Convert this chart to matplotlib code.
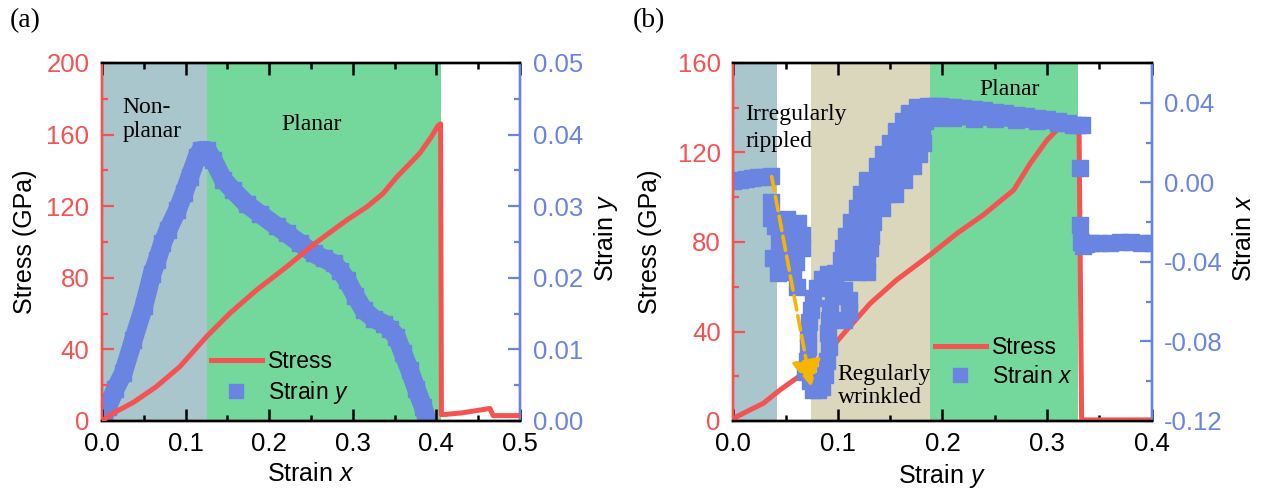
import matplotlib
matplotlib.use("Agg")
import matplotlib.pyplot as plt
import numpy as np
from matplotlib.lines import Line2D
from matplotlib.ticker import MultipleLocator, FormatStrFormatter

plt.rcParams['font.family'] = ['Liberation Sans', 'DejaVu Sans']
plt.rcParams['mathtext.fontset'] = 'custom'
plt.rcParams['mathtext.rm'] = 'Liberation Sans'
plt.rcParams['mathtext.it'] = 'Liberation Sans:italic'
plt.rcParams['axes.unicode_minus'] = False

RED = '#f55252'
BLUE = '#6a84e2'
GREEN = '#74d89c'
GREYBLUE = '#a8c6cc'
TAN = '#dbd7bc'
ARROW = '#f7b500'
SERIF = ['Liberation Serif', 'DejaVu Serif']
NAN = np.nan

# ---------------- panel (a): loading along x ----------------
a_stress_strain = [0.000, 0.013, 0.0375, 0.065, 0.093, 0.125, 0.153, 0.185, 0.221,
                   0.255, 0.293, 0.317, 0.336, 0.353, 0.380, 0.394, 0.402, 0.405,
                   0.406, 0.430, 0.464, 0.468, 0.480, 0.500]
a_stress = [0.0, 4.3, 10.4, 19.2, 30.3, 47.1, 60.2, 73.2, 86.2,
            99.3, 112.3, 119.7, 127.0, 136.5, 149.5, 158.8, 165.0, 166.0,
            3.5, 4.5, 7.0, 3.0, 3.0, 3.0]

a_sy_strain = [0.002, 0.007, 0.016, 0.0255, 0.0375, 0.050, 0.060, 0.066, 0.0723,
               0.079, 0.0903, 0.098, 0.105, 0.1136, 0.118, 0.126, 0.133, 0.145,
               0.157, 0.173, 0.189, 0.209, 0.221, 0.237, 0.253, 0.265, 0.277,
               0.285, 0.293, 0.303, 0.313, 0.325, 0.337, 0.345, 0.352, 0.360,
               0.368, 0.376, 0.384, 0.392]
a_strain_y = [0.0005, 0.0020, 0.0045, 0.0067, 0.0113, 0.0160, 0.0206, 0.0225, 0.0248,
              0.0267, 0.0295, 0.0318, 0.0341, 0.0369, 0.0378, 0.0378, 0.0365, 0.0337,
              0.0322, 0.0303, 0.0289, 0.0272, 0.0262, 0.0248, 0.0234, 0.0227, 0.0220,
              0.0210, 0.0197, 0.0175, 0.0155, 0.0143, 0.0136, 0.0128, 0.0118, 0.0095,
              0.0071, 0.0045, 0.0020, -0.0010]

a_regions = [(0.0, 0.125, GREYBLUE), (0.125, 0.406, GREEN)]

# ---------------- panel (b): loading along y ----------------
b_stress_strain = [0.000, 0.003, 0.0287, 0.0447, 0.067, 0.0894, 0.1085, 0.131, 0.156,
                   0.188, 0.214, 0.239, 0.268, 0.284, 0.300, 0.311, 0.320, 0.3305,
                   0.333, 0.400]
b_stress = [0.0, 1.9, 7.9, 13.9, 21.3, 30.3, 40.7, 52.6, 63.0,
            74.2, 83.9, 92.1, 103.2, 115.2, 125.6, 130.8, 132.5, 133.0,
            0.5, 0.5]

# strain x: steady stretches (NaN separates the stretches)
b_band_strain = [
    0.000, 0.006, 0.012, 0.018, 0.024, 0.030, 0.036, NAN,
    0.186, 0.192, 0.198, 0.204, 0.210, 0.220, 0.230, 0.240, 0.250, 0.260,
    0.270, 0.280, 0.290, 0.300, 0.310, 0.320, 0.330, 0.333, NAN,
    0.195, 0.210, 0.230, 0.250, 0.270, 0.290, 0.310, 0.325, NAN,
    0.332, 0.334, 0.337, 0.342, 0.350, 0.360, 0.370, 0.380, 0.390, 0.400]
b_band_sx = [
    0.0008, 0.0012, 0.0016, 0.0021, 0.0025, 0.0028, 0.0030, NAN,
    0.0383, 0.0384, 0.0382, 0.0380, 0.0378, 0.0376, 0.0370, 0.0362, 0.0355, 0.0348,
    0.0340, 0.0332, 0.0324, 0.0316, 0.0306, 0.0298, 0.0288, 0.0288, NAN,
    0.0322, 0.0322, 0.0320, 0.0318, 0.0312, 0.0306, 0.0298, 0.0290, NAN,
    -0.0300, -0.0322, -0.0310, -0.0305, -0.0304, -0.0303, -0.0302, -0.0302, -0.0303, -0.0303]

# strain x: scattered stretches
b_scatter_strain = [
    # irregularly rippled
    0.0358, 0.0358, 0.0511, 0.0622, 0.0654, 0.0479, 0.0383, 0.0526, 0.0431, 0.0574,
    0.0654, 0.0607, 0.0400, 0.0560, 0.0440, 0.0600, 0.0500, 0.0470,
    # regularly wrinkled
    0.0686, 0.0735, 0.0766, 0.0810, 0.0846, 0.0878,
    0.0700, 0.0712, 0.0718, 0.0724, 0.0740, 0.0765, 0.0798, 0.0850, 0.0910, 0.0970,
    0.0900, 0.0915, 0.0910, 0.0915, 0.0925, 0.0950, 0.1000, 0.1060, 0.1110, 0.1110, 0.1060,
    0.105, 0.118, 0.128,
    0.103, 0.115, 0.128,
    0.105, 0.118, 0.131,
    0.108, 0.120, 0.132,
    0.113, 0.125, 0.134,
    0.118, 0.130, 0.142,
    0.122, 0.135, 0.148, 0.155,
    0.128, 0.140, 0.152, 0.163,
    0.137, 0.150, 0.162, 0.172,
    0.143, 0.156, 0.168, 0.178,
    0.150, 0.162, 0.174, 0.181,
    0.156, 0.168, 0.180,
    0.162, 0.174, 0.183,
    0.168, 0.178, 0.185,
    0.176, 0.185,
    # fracture
    0.331, 0.3318]
b_scatter_sx = [
    -0.0100, -0.0180, -0.0185, -0.0206, -0.0264, -0.0256, -0.0382, -0.0357, -0.0457, -0.0449,
    -0.0331, -0.0524, -0.0220, -0.0280, -0.0300, -0.0400, -0.0420, -0.0360,
    -0.0952, -0.1000, -0.1044, -0.1044, -0.1027, -0.0970,
    -0.0900, -0.0826, -0.0760, -0.0700, -0.0640, -0.0580, -0.0530, -0.0485, -0.0460, -0.0455,
    -0.0900, -0.0830, -0.0760, -0.0690, -0.0630, -0.0570, -0.0540, -0.0540, -0.0590, -0.0650, -0.0690,
    -0.045, -0.045, -0.045,
    -0.039, -0.039, -0.039,
    -0.033, -0.033, -0.033,
    -0.027, -0.027, -0.027,
    -0.020, -0.020, -0.020,
    -0.013, -0.013, -0.013,
    -0.006, -0.006, -0.006, -0.006,
    0.001, 0.001, 0.001, 0.001,
    0.008, 0.008, 0.008, 0.008,
    0.014, 0.014, 0.014, 0.014,
    0.020, 0.020, 0.020, 0.020,
    0.026, 0.026, 0.026,
    0.031, 0.031, 0.031,
    0.035, 0.035, 0.035,
    0.038, 0.038,
    0.0071, -0.0214]

b_regions = [(0.0, 0.0415, GREYBLUE), (0.0744, 0.188, TAN), (0.188, 0.330, GREEN)]

# dashed guide arrow (strain y, strain x)
arrow_start = (0.0367, 0.0029)
arrow_end = (0.0744, -0.1027)

TICK_FS = 18.5
LABEL_FS = 18
TEXT_FS = 17
LEGEND_FS = 16.5


def style_axes(ax, ax2):
    for a in (ax, ax2):
        a.spines['left'].set_color(RED)
        a.spines['right'].set_color(BLUE)
        a.spines['top'].set_color('black')
        a.spines['bottom'].set_color('black')
        for s in a.spines.values():
            s.set_linewidth(1.7)
    ax.tick_params(axis='x', which='both', direction='in', top=True, bottom=True,
                   colors='black', labelsize=TICK_FS, pad=8, width=1.8)
    ax.tick_params(axis='x', which='major', length=8.5)
    ax.tick_params(axis='x', which='minor', length=4.2)
    ax.tick_params(axis='y', which='both', direction='in', left=True, right=False,
                   colors=RED, labelsize=TICK_FS, pad=9, width=1.6)
    ax.tick_params(axis='y', which='major', length=8.5)
    ax.tick_params(axis='y', which='minor', length=4.0)
    ax2.tick_params(axis='y', which='both', direction='in', right=True, left=False,
                    colors=BLUE, labelsize=TICK_FS, pad=9, width=1.6)
    ax2.tick_params(axis='y', which='major', length=8.5)
    ax2.tick_params(axis='y', which='minor', length=4.0)
    ax.xaxis.set_major_formatter(FormatStrFormatter('%.1f'))
    ax2.yaxis.set_major_formatter(FormatStrFormatter('%.2f'))


fig = plt.figure(figsize=(12.67, 4.91), dpi=100)

# ======================= (a) =======================
axa = fig.add_axes([102 / 1267, 70 / 491, 418 / 1267, 358 / 491])
axa2 = axa.twinx()
# stress axis drawn above the strain axis in this panel
axa.set_zorder(axa2.get_zorder() + 1)
axa.patch.set_visible(False)

for x0, x1, c in a_regions:
    axa2.axvspan(x0, x1, color=c, lw=0, zorder=0)

axa2.plot(a_sy_strain, a_strain_y, color=BLUE, lw=13.5, marker='s', ms=11,
          mec=BLUE, mfc=BLUE, solid_joinstyle='round', solid_capstyle='butt', zorder=2)
axa.plot(a_stress_strain, a_stress, color=RED, lw=3.6, zorder=3)

axa.set_xlim(0, 0.5)
axa.set_ylim(0, 200)
axa2.set_ylim(0, 0.05)
axa.xaxis.set_major_locator(MultipleLocator(0.1))
axa.xaxis.set_minor_locator(MultipleLocator(0.05))
axa.yaxis.set_major_locator(MultipleLocator(40))
axa.yaxis.set_minor_locator(MultipleLocator(20))
axa2.yaxis.set_major_locator(MultipleLocator(0.01))
axa2.yaxis.set_minor_locator(MultipleLocator(0.005))
style_axes(axa, axa2)

axa.set_xlabel('Strain $x$', fontsize=LABEL_FS)
axa.set_ylabel('Stress (GPa)', fontsize=LABEL_FS)
axa2.set_ylabel('Strain $y$', fontsize=LABEL_FS)
axa.xaxis.set_label_coords(0.5, -0.115)
axa.yaxis.set_label_coords(-0.156, 0.5)
axa2.yaxis.set_label_coords(1.172, 0.51)

axa.text(0.0243, 171.9, 'Non-', family=SERIF, fontsize=TEXT_FS, va='baseline')
axa.text(0.0243, 158.5, 'planar', family=SERIF, fontsize=TEXT_FS, va='baseline')
axa.text(0.2141, 162.6, 'Planar', family=SERIF, fontsize=TEXT_FS, va='baseline')

handles_a = [Line2D([], [], color=RED, lw=3.6),
             Line2D([], [], ls='none', marker='s', ms=10, color=BLUE)]
axa.legend(handles_a, ['Stress', 'Strain $y$'], loc='center left',
           bbox_to_anchor=(0.261, 0.12), frameon=False, fontsize=LEGEND_FS,
           borderpad=0, borderaxespad=0, handlelength=2.2, handletextpad=0.3,
           labelspacing=0.25)

# ======================= (b) =======================
axb = fig.add_axes([733.3 / 1267, 70 / 491, 418.4 / 1267, 358 / 491])
axb2 = axb.twinx()

for x0, x1, c in b_regions:
    axb.axvspan(x0, x1, color=c, lw=0, zorder=0)

axb.plot(b_stress_strain, b_stress, color=RED, lw=3.6, zorder=3)
axb2.plot(b_band_strain, b_band_sx, color=BLUE, lw=10, marker='s', ms=11,
          mec=BLUE, mfc=BLUE, solid_capstyle='butt', zorder=2)
axb2.plot(b_scatter_strain, b_scatter_sx, ls='none', marker='s', ms=11,
          mec=BLUE, mfc=BLUE, zorder=2)

axb2.annotate('', xy=arrow_end, xytext=arrow_start,
              arrowprops=dict(arrowstyle='-|>,head_length=0.8,head_width=0.45',
                              color=ARROW, lw=2.6, ls=(0, (4, 1.6)),
                              shrinkA=0, shrinkB=0, mutation_scale=20),
              zorder=5)

axb.set_xlim(0, 0.4)
axb.set_ylim(0, 160)
axb2.set_ylim(-0.12, 0.06)
axb.xaxis.set_major_locator(MultipleLocator(0.1))
axb.xaxis.set_minor_locator(MultipleLocator(0.05))
axb.yaxis.set_major_locator(MultipleLocator(40))
axb.yaxis.set_minor_locator(MultipleLocator(20))
axb2.yaxis.set_major_locator(MultipleLocator(0.04))
axb2.yaxis.set_minor_locator(MultipleLocator(0.02))
style_axes(axb, axb2)

axb.set_xlabel('Strain $y$', fontsize=LABEL_FS)
axb.set_ylabel('Stress (GPa)', fontsize=LABEL_FS)
axb2.set_ylabel('Strain $x$', fontsize=LABEL_FS)
axb.xaxis.set_label_coords(0.5, -0.115)
axb.yaxis.set_label_coords(-0.171, 0.5)
axb2.yaxis.set_label_coords(1.192, 0.51)

axb.text(0.0112, 134.5, 'Irregularly', family=SERIF, fontsize=TEXT_FS, va='baseline')
axb.text(0.0112, 122.6, 'rippled', family=SERIF, fontsize=TEXT_FS, va='baseline')
axb.text(0.0999, 18.3, 'Regularly', family=SERIF, fontsize=TEXT_FS, va='baseline')
axb.text(0.0999, 7.9, 'wrinkled', family=SERIF, fontsize=TEXT_FS, va='baseline')
axb.text(0.2354, 145.7, 'Planar', family=SERIF, fontsize=TEXT_FS, va='baseline')

handles_b = [Line2D([], [], color=RED, lw=3.6),
             Line2D([], [], ls='none', marker='s', ms=10, color=BLUE)]
axb2.legend(handles_b, ['Stress', 'Strain $x$'], loc='center left',
            bbox_to_anchor=(0.4825, 0.165), frameon=False, fontsize=LEGEND_FS,
            borderpad=0, borderaxespad=0, handlelength=2.2, handletextpad=0.3,
            labelspacing=0.25)

fig.text(10 / 1267, 1 - 8 / 491, '(a)', family=SERIF, fontsize=20, va='top', ha='left')
fig.text(633 / 1267, 1 - 8 / 491, '(b)', family=SERIF, fontsize=20, va='top', ha='left')

fig.savefig('out.png', dpi=100)
